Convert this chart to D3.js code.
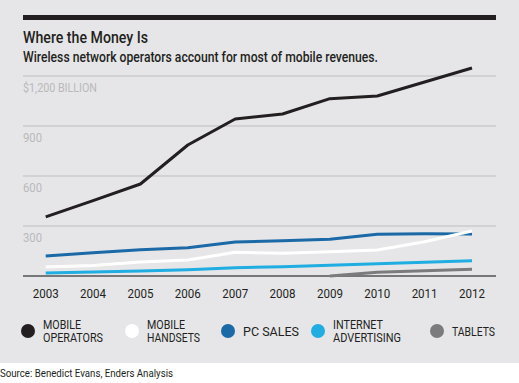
<!DOCTYPE html>
<meta charset="utf-8">
<style>
body { margin: 0; background: #fff; }
text { font-family: Roboto, "DejaVu Sans", sans-serif; }
.grid line { stroke: #bdbdbf; stroke-width: 1; }
.line { fill: none; stroke-width: 3; stroke-linejoin: round; }
</style>
<svg width="519" height="383"></svg>
<script src="https://d3js.org/d3.v7.min.js"></script>
<script>

var years = [2003, 2004, 2005, 2006, 2007, 2008, 2009, 2010, 2011, 2012];
var yearLabels = ["2003", "2004", "2005", "2006", "2007", "2008", "2009", "2010", "2011", "2012"];

var mobileOperators = [355, 452, 552, 786, 942, 972, 1064, 1080, 1164, 1248];
var mobileHandsets = [54, 63, 84, 96, 142, 136, 146, 156, 206, 270];
var pcSales = [120, 140, 158, 170, 204, 212, 220, 250, 254, 252];
var internetAdvertising = [18, 24, 30, 38, 50, 56, 64, 74, 82, 92];
var tablets = [null, null, null, null, null, null, 0, 22, 32, 40];

var yTicks = [0, 300, 600, 900, 1200];
var yTickLabels = ["", "300", "600", "900", "$1,200 BILLION"];

var seriesNames = ["MOBILE|OPERATORS", "MOBILE|HANDSETS", "PC SALES", "INTERNET|ADVERTISING", "TABLETS"];
var seriesColors = ["#231f20", "#ffffff", "#1b69a6", "#20ade2", "#7b7b7d"];

var series = [mobileOperators, mobileHandsets, pcSales, internetAdvertising, tablets];

var svg = d3.select("svg");

// squeeze text to the condensed widths of the original
function fit(sel, w) {
  sel.attr("textLength", w).attr("lengthAdjust", "spacingAndGlyphs");
  return sel;
}

svg.append("rect").attr("width", 519).attr("height", 363).attr("fill", "#e6e6e8");
svg.append("rect").attr("x", 23).attr("y", 15).attr("width", 473).attr("height", 5).attr("fill", "#231f20");

fit(svg.append("text").attr("x", 23).attr("y", 43)
    .style("font-size", "17px").style("font-weight", 500).attr("fill", "#231f20")
    .text("Where the Money Is"), 125);
fit(svg.append("text").attr("x", 23).attr("y", 62)
    .style("font-size", "14px").style("font-weight", 500).attr("fill", "#231f20")
    .text("Wireless network operators account for most of mobile revenues."), 355);

var x = d3.scaleLinear().domain([2003, 2012]).range([45.7, 472]);
var y = d3.scaleLinear().domain([0, 1200]).range([276, 76]);

// gridlines + labels
var grid = svg.append("g").attr("class", "grid");
grid.selectAll("line")
  .data(yTicks.slice(1))
  .enter().append("line")
    .attr("x1", 23).attr("x2", 496)
    .attr("y1", function(d) { return y(d); })
    .attr("y2", function(d) { return y(d); });

var ylabW = [0, 19, 19, 19, 74];
svg.selectAll(".ylab")
  .data(yTicks.slice(1))
  .enter().append("text")
    .attr("class", "ylab")
    .attr("x", 23)
    .attr("y", function(d) { return y(d) + 16; })
    .attr("fill", "#b9b9bb")
    .style("font-size", "13px")
    .attr("textLength", function(d, i) { return ylabW[i + 1]; })
    .attr("lengthAdjust", "spacingAndGlyphs")
    .text(function(d, i) { return yTickLabels[i + 1]; });

// baseline
svg.append("line")
    .attr("x1", 23).attr("x2", 496)
    .attr("y1", y(0)).attr("y2", y(0))
    .attr("stroke", "#777779").attr("stroke-width", 2);

// x labels
svg.selectAll(".xlab")
  .data(years)
  .enter().append("text")
    .attr("class", "xlab")
    .attr("x", function(d) { return x(d) - 13; })
    .attr("y", 298)
    .attr("fill", "#231f20")
    .style("font-size", "13.5px")
    .attr("textLength", 26)
    .attr("lengthAdjust", "spacingAndGlyphs")
    .text(function(d, i) { return yearLabels[i]; });

var line = d3.line()
    .defined(function(d) { return d != null; })
    .x(function(d, i) { return x(years[i]); })
    .y(function(d) { return y(d); });

// draw order: tablets under, operators on top
var order = [4, 3, 2, 1, 0];
order.forEach(function(k) {
  svg.append("path")
      .datum(series[k])
      .attr("class", "line")
      .attr("stroke", seriesColors[k])
      .attr("d", line);
});

// legend
var legendX = [28, 132, 228, 318, 437];
var legendW = [[38, 60], [38, 53], [56], [50, 68], [43]];
var legend = svg.selectAll(".legend")
  .data(seriesNames)
  .enter().append("g")
    .attr("class", "legend")
    .attr("transform", function(d, i) { return "translate(" + legendX[i] + ",331)"; });

legend.append("circle")
    .attr("r", 7)
    .attr("fill", function(d, i) { return seriesColors[i]; });

legend.each(function(d, i) {
  var parts = d.split("|");
  var g = d3.select(this);
  parts.forEach(function(p, j) {
    fit(g.append("text")
        .attr("x", 15)
        .attr("y", parts.length == 1 ? 5 : (j == 0 ? -2 : 11))
        .attr("fill", "#231f20")
        .style("font-size", "12px")
        .text(p), legendW[i][j]);
  });
});

fit(svg.append("text").attr("x", 0).attr("y", 377)
    .attr("fill", "#231f20")
    .style("font-size", "11px")
    .text("Source: Benedict Evans, Enders Analysis"), 173);

</script>
